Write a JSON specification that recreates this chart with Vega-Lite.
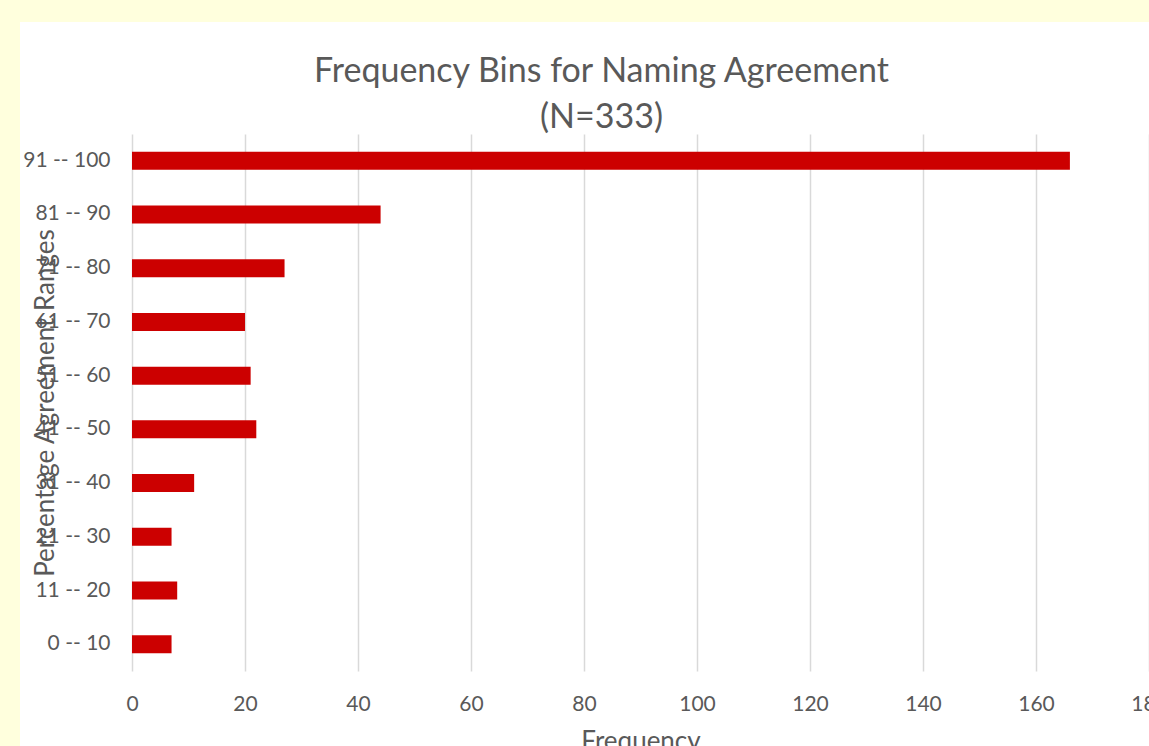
{
  "$schema": "https://vega.github.io/schema/vega-lite/v6.json",
  "autosize": {"type": "none"},
  "width": 1017,
  "height": 537,
  "padding": {"left": 132, "top": 134, "right": 0, "bottom": 75},
  "background": "#FFFFDD",
  "title": {
    "text": ["Frequency Bins for Naming Agreement", "(N=333)"],
    "anchor": "middle",
    "dx": -39,
    "offset": -1,
    "font": "Lato",
    "fontSize": 34,
    "fontWeight": "normal",
    "lineHeight": 46,
    "color": "#595959"
  },
  "data": {
    "values": [
      {"range": "91 -- 100", "frequency": 166},
      {"range": "81 -- 90", "frequency": 44},
      {"range": "71 -- 80", "frequency": 27},
      {"range": "61 -- 70", "frequency": 20},
      {"range": "51 -- 60", "frequency": 21},
      {"range": "41 -- 50", "frequency": 22},
      {"range": "31 -- 40", "frequency": 11},
      {"range": "21 -- 30", "frequency": 7},
      {"range": "11  -- 20", "frequency": 8},
      {"range": "0 -- 10", "frequency": 7}
    ]
  },
  "mark": {"type": "bar", "color": "#CC0000"},
  "encoding": {
    "y": {
      "field": "range",
      "type": "nominal",
      "sort": null,
      "scale": {"paddingInner": 0.665, "paddingOuter": 0.33},
      "axis": {
        "title": "Percentage Agreement Ranges",
        "titlePadding": -36,
        "titleFont": "Lato",
        "titleFontSize": 26,
        "titleFontWeight": "normal",
        "titleColor": "#595959",
        "labelFont": "Lato",
        "labelFontSize": 21,
        "labelColor": "#595959",
        "labelPadding": 22,
        "ticks": false,
        "domain": false,
        "grid": false
      }
    },
    "x": {
      "field": "frequency",
      "type": "quantitative",
      "scale": {"domain": [0, 180], "nice": false},
      "axis": {
        "title": "Frequency",
        "values": [0, 20, 40, 60, 80, 100, 120, 140, 160, 180],
        "titleFont": "Lato",
        "titleFontSize": 26,
        "titleFontWeight": "normal",
        "titleColor": "#595959",
        "titlePadding": 14,
        "labelFont": "Lato",
        "labelFontSize": 21,
        "labelColor": "#595959",
        "labelPadding": 22,
        "labelFlush": false,
        "ticks": false,
        "domain": false,
        "grid": true,
        "gridColor": "#D9D9D9",
        "gridWidth": 1.5
      }
    }
  },
  "config": {
    "view": {"fill": "white", "stroke": "white", "strokeWidth": 224}
  }
}
